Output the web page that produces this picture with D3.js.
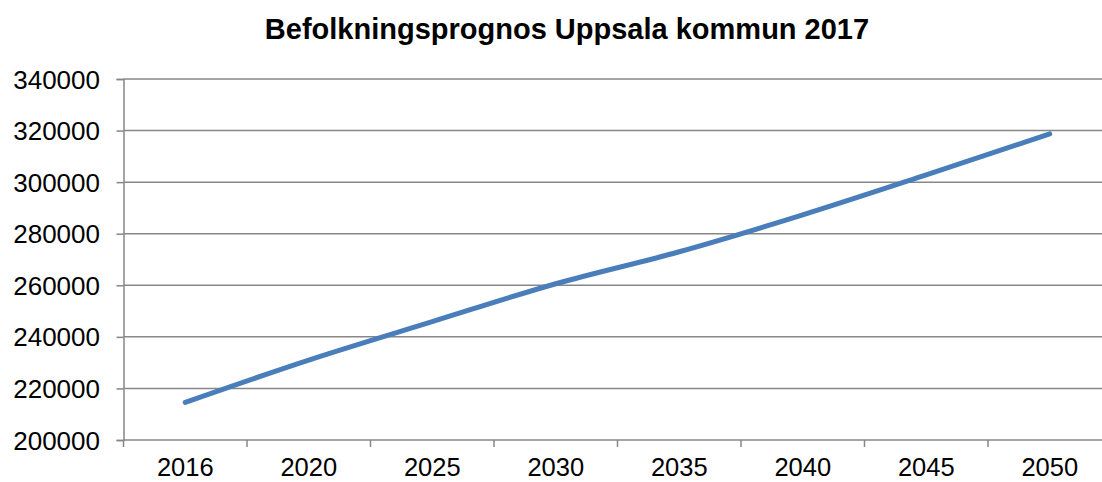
<!DOCTYPE html>
<html><head><meta charset="utf-8">
<script src="https://cdn.jsdelivr.net/npm/d3@7"></script>
<style>body{margin:0;background:#fff}svg{display:block}</style>
</head><body>
<script>
const title = "Befolkningsprognos Uppsala kommun 2017";
const years = ["2016","2020","2025","2030","2035","2040","2045","2050"];
const population = [214600, 231000, 245900, 260600, 273000, 287300, 302800, 318700];
const yTicks = [200000,220000,240000,260000,280000,300000,320000,340000];

(function(){
const W = 1102, H = 482;
const svg = d3.select("body").append("svg").attr("width", W).attr("height", H);
const mLeft = 123.5, mRight = 1111.5, mTop = 79, mBottom = 440;

const x = d3.scaleBand().domain(years).range([mLeft, mRight]).paddingInner(0).paddingOuter(0);
const y = d3.scaleLinear().domain([200000, 340000]).range([mBottom, mTop]);
const font = "'Liberation Sans', Arial, sans-serif";
const grey = "#878787";

svg.append("text").attr("x", 567).attr("y", 39).attr("text-anchor","middle")
  .attr("font-family", font).attr("font-weight","bold").attr("font-size", 29).attr("fill","#000").text(title);

// gridlines
svg.append("g").selectAll("line").data(yTicks.slice(1)).join("line")
  .attr("x1", mLeft).attr("x2", W).attr("y1", d=>y(d)).attr("y2", d=>y(d))
  .attr("stroke", grey).attr("stroke-width", 1.5);

// y axis
const ya = svg.append("g").attr("transform", `translate(${mLeft},0)`)
  .call(d3.axisLeft(y).tickValues(yTicks).tickSize(7).tickPadding(16.5).tickFormat(d3.format("d")));
ya.select(".domain").attr("stroke", grey).attr("stroke-width", 1.5);
ya.selectAll(".tick line").attr("stroke", grey).attr("stroke-width", 1.5);
ya.selectAll("text").attr("font-family", font).attr("font-size", 26).attr("fill","#000").attr("dy","0.35em");

// x axis
const xa = svg.append("g").attr("transform", `translate(0,${mBottom})`)
  .call(d3.axisBottom(x).tickSize(0).tickPadding(18));
xa.select(".domain").remove();
xa.append("line").attr("x1", mLeft).attr("x2", W).attr("stroke", grey).attr("stroke-width", 1.5);
xa.selectAll(".tick text").attr("font-family", font).attr("font-size", 25.5).attr("fill","#000").attr("dy","0.71em");
xa.selectAll(".bnd").data(years).join("line").attr("class","bnd")
  .attr("x1", d=>x(d)).attr("x2", d=>x(d)).attr("y1",0).attr("y2",7)
  .attr("stroke", grey).attr("stroke-width", 1.5);

// line
const line = d3.line().x((d,i)=>x(years[i]) + x.bandwidth()/2).y(d=>y(d)).curve(d3.curveMonotoneX);
svg.append("path").datum(population).attr("d", line).attr("fill","none")
  .attr("stroke","#4a7ebb").attr("stroke-width", 5).attr("stroke-linecap","round").attr("stroke-linejoin","round");
})();
</script>
</body></html>
